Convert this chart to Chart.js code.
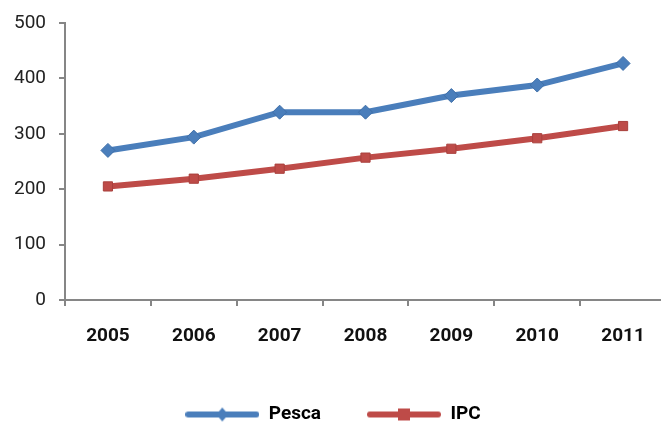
<!DOCTYPE html>
<html>
<head>
<meta charset="utf-8">
<script src="https://cdn.jsdelivr.net/npm/chart.js@4"></script>
<style>
  html, body { margin: 0; padding: 0; background: #fff; overflow: hidden; }
  #wrap { width: 661px; height: 428px; overflow: hidden; }
  #c { display: block; }
</style>
</head>
<body>
<div id="wrap"><canvas id="c" width="666" height="434"></canvas></div>
<script>
// Years on the horizontal axis
const years = ['2005', '2006', '2007', '2008', '2009', '2010', '2011'];
// Index values per year
const pesca = [270, 294, 339, 339, 369, 388, 427];
const ipc = [205, 219, 237, 257, 273, 292, 314];
// Vertical axis ticks
const yTicks = [0, 100, 200, 300, 400, 500];

const FONT = 'Roboto, "DejaVu Sans Condensed", sans-serif';
const BLUE = '#4A7EBB';
const RED = '#BE4B48';

// Legend symbol: a short thick line with the series marker in the middle
function legendSymbol(color, shape) {
  const cv = document.createElement('canvas');
  cv.width = 74; cv.height = 16;
  const g = cv.getContext('2d');
  g.strokeStyle = color; g.lineWidth = 6; g.lineCap = 'round';
  g.beginPath(); g.moveTo(3, 8); g.lineTo(71, 8); g.stroke();
  g.fillStyle = color;
  if (shape === 'diamond') {
    g.beginPath(); g.moveTo(37, 1); g.lineTo(43, 8); g.lineTo(37, 15); g.lineTo(31, 8); g.closePath(); g.fill();
  } else {
    g.fillRect(31, 2, 12, 12);
  }
  return cv;
}
const symPesca = legendSymbol(BLUE, 'diamond');
const symIpc = legendSymbol(RED, 'square');

new Chart(document.getElementById('c'), {
  type: 'line',
  data: {
    labels: years,
    datasets: [
      {
        label: 'Pesca', data: pesca,
        borderColor: BLUE, backgroundColor: BLUE, borderWidth: 6,
        pointStyle: 'rectRot', pointRadius: 7, pointBackgroundColor: BLUE,
        pointBorderColor: '#3f6fa8', pointBorderWidth: 1, tension: 0
      },
      {
        label: 'IPC', data: ipc,
        borderColor: RED, backgroundColor: RED, borderWidth: 6,
        pointStyle: 'rect', pointRadius: 6.5, pointBackgroundColor: RED,
        pointBorderColor: '#a9403d', pointBorderWidth: 1, tension: 0
      }
    ]
  },
  options: {
    responsive: false,
    animation: false,
    devicePixelRatio: 1,
    layout: { autoPadding: false, padding: { top: 23, right: 0, bottom: 0, left: 0 } },
    plugins: {
      tooltip: { enabled: false },
      legend: {
        position: 'bottom',
        labels: {
          usePointStyle: true,
          pointStyleWidth: 74,
          padding: 46,
          color: '#111',
          font: { family: FONT, size: 19, weight: 'bold' },
          generateLabels: (chart) => chart.data.datasets.map((ds, i) => ({
            text: ds.label,
            pointStyle: i === 0 ? symPesca : symIpc,
            fillStyle: ds.borderColor,
            strokeStyle: ds.borderColor,
            lineWidth: 0,
            hidden: false,
            datasetIndex: i
          }))
        }
      }
    },
    scales: {
      x: {
        offset: true,
        grid: { offset: true, drawOnChartArea: false, drawTicks: true, tickLength: 6, color: '#868686', lineWidth: 2 },
        border: { display: true, color: '#868686', width: 2 },
        ticks: { color: '#111', padding: 19, font: { family: FONT, size: 19, weight: 'bold' }, maxRotation: 0 },
        afterFit: (axis) => { axis.height = 59; axis.paddingLeft = 0; axis.paddingRight = 0; }
      },
      y: {
        min: 0, max: 500,
        afterBuildTicks: (axis) => { axis.ticks = yTicks.map(v => ({ value: v })); },
        grid: { drawOnChartArea: false, drawTicks: true, tickLength: 6, color: '#868686', lineWidth: 2 },
        border: { display: true, color: '#868686', width: 2 },
        ticks: { color: '#222', padding: 13, font: { family: FONT, size: 19 } },
        afterFit: (axis) => { axis.width = 65; axis.paddingTop = 0; axis.paddingBottom = 0; }
      }
    }
  }
});
</script>
</body>
</html>
